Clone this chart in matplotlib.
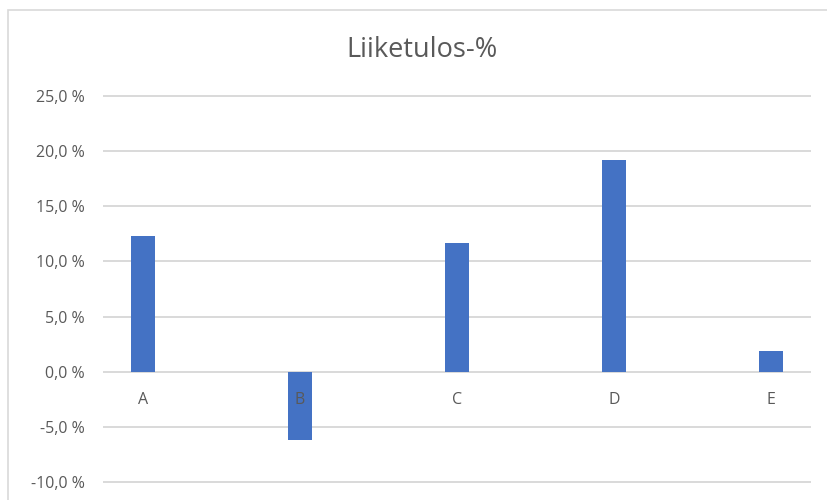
import matplotlib
matplotlib.use("Agg")
import matplotlib.pyplot as plt
from matplotlib.patches import Rectangle
from matplotlib.ticker import FuncFormatter, MultipleLocator
import matplotlib.transforms as mtransforms

categories = ["A", "B", "C", "D", "E"]
values = [12.3, -6.2, 11.7, 19.2, 1.9]
title = "Liiketulos-%"

TEXT = "#595959"
GRID = "#d9d9d9"
BAR = "#4472c4"

plt.rcParams["font.family"] = ["Open Sans", "DejaVu Sans"]

W, H = 827, 500
fig = plt.figure(figsize=(W / 100, H / 100), dpi=100)
fig.patch.set_facecolor("white")

# chart-area frame (runs off the right and bottom edges)
fig.patches.append(Rectangle((8 / W, -0.1), 2.0, (1 - 10 / H) + 0.1,
                             transform=fig.transFigure, fill=False,
                             edgecolor=GRID, linewidth=1.2))

left, right = 104 / W, 810 / W
bottom, top = 1 - 482.3 / H, 1 - 95.7 / H
ax = fig.add_axes([left, bottom, right - left, top - bottom])

x = list(range(len(categories)))
ax.bar(x, values, width=0.156, color=BAR, zorder=3)

ax.set_xlim(-0.25, len(categories) - 0.75)
ax.set_ylim(-10, 25)
ax.yaxis.set_major_locator(MultipleLocator(5))
ax.yaxis.set_major_formatter(FuncFormatter(lambda v, p: f"{v:.1f}".replace(".", ",") + " %"))
ax.tick_params(axis="y", length=0, pad=14, labelsize=11.5, labelcolor=TEXT)
ax.set_xticks([])
for s in ax.spines.values():
    s.set_visible(False)
ax.yaxis.grid(True, color=GRID, linewidth=1.4, zorder=0)
ax.set_axisbelow(True)
for gl in ax.get_ygridlines():
    gl.set_clip_on(False)

# category labels sit just below the zero line
off = mtransforms.offset_copy(ax.transData, fig=fig, x=0, y=-28 * 0.72, units="points")
for xi, c in zip(x, categories):
    ax.text(xi, 0, c, transform=off, ha="center", va="center",
            fontsize=11.5, color=TEXT, zorder=4)

fig.text(422 / W, 1 - 50 / H, title, ha="center", va="center",
         fontsize=19.5, color=TEXT)

fig.savefig("out.png", dpi=100)
